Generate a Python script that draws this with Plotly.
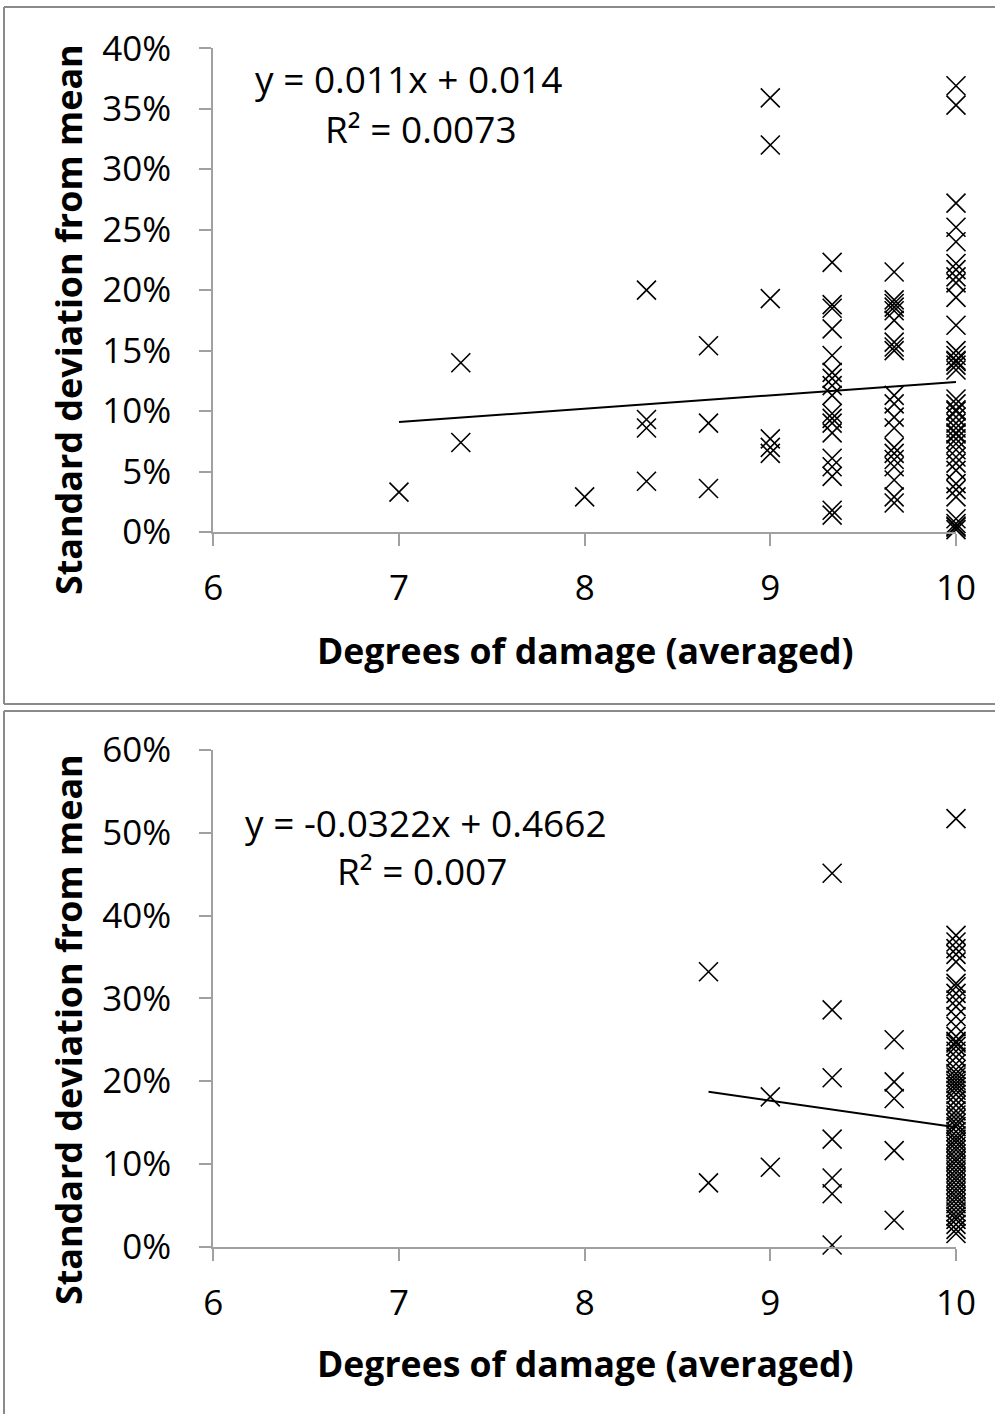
import plotly.graph_objects as go

# ---- Panel 1: damage vs. standard deviation (first set) ----
top_x = (
    [7.0]
    + [7.333] * 2
    + [8.0]
    + [8.333] * 4
    + [8.667] * 3
    + [9.0] * 6
    + [9.333] * 18
    + [9.667] * 20
    + [10.0] * 40
)
top_y = (
    [0.033]
    + [0.140, 0.074]
    + [0.029]
    + [0.200, 0.093, 0.086, 0.042]
    + [0.154, 0.090, 0.036]
    + [0.359, 0.320, 0.193, 0.077, 0.070, 0.065]
    + [0.223, 0.188, 0.185, 0.168, 0.146, 0.132, 0.127, 0.121, 0.113,
       0.098, 0.094, 0.090, 0.082, 0.061, 0.054, 0.046, 0.018, 0.014]
    + [0.215, 0.192, 0.189, 0.186, 0.183, 0.175, 0.157, 0.153, 0.150, 0.113,
       0.106, 0.095, 0.086, 0.070, 0.065, 0.060, 0.054, 0.043, 0.029, 0.024]
    + [0.369, 0.353, 0.272, 0.252, 0.240, 0.222, 0.217, 0.211, 0.206, 0.194,
       0.171, 0.150, 0.146, 0.142, 0.141, 0.138, 0.134, 0.110, 0.106, 0.101,
       0.100, 0.095, 0.090, 0.086, 0.082, 0.081, 0.077, 0.073, 0.068, 0.062,
       0.057, 0.051, 0.040, 0.035, 0.029, 0.011, 0.007, 0.005, 0.004, 0.002]
)
top_slope, top_intercept, top_r2 = 0.011, 0.014, "0.0073"

# ---- Panel 2: damage vs. standard deviation (second set) ----
bot_x = (
    [8.667] * 2
    + [9.0] * 2
    + [9.333] * 7
    + [9.667] * 5
    + [10.0] * 62
)
bot_y = (
    [0.332, 0.077]
    + [0.181, 0.096]
    + [0.451, 0.286, 0.204, 0.130, 0.083, 0.064, 0.002]
    + [0.250, 0.199, 0.179, 0.116, 0.032]
    + [0.517, 0.376, 0.368, 0.360, 0.353, 0.344, 0.318, 0.314, 0.306, 0.298,
       0.290, 0.278, 0.266, 0.254, 0.248, 0.246, 0.242, 0.236, 0.229, 0.221,
       0.214, 0.209, 0.205, 0.201, 0.197, 0.193, 0.189, 0.184, 0.177, 0.171,
       0.164, 0.159, 0.154, 0.149, 0.145, 0.139, 0.134, 0.130, 0.126, 0.121,
       0.117, 0.112, 0.107, 0.103, 0.098, 0.093, 0.089, 0.084, 0.080, 0.075,
       0.070, 0.066, 0.061, 0.057, 0.052, 0.047, 0.042, 0.037, 0.033, 0.027,
       0.021, 0.016]
)
bot_slope, bot_intercept, bot_r2 = -0.0322, 0.4662, "0.007"

x_ticks = [6, 7, 8, 9, 10]
axis_title_x = "Degrees of damage (averaged)"
axis_title_y = "Standard deviation from mean"

FONT = "Open Sans"
AXIS_GREY = "#a0a0a0"
W, H = 995, 1414


def px_x(v):
    return v / W


def px_y(v):
    # pixel offset from top -> paper fraction from bottom
    return (H - v) / H


marker = dict(symbol="x-thin-open", size=19, color="black",
              line=dict(color="black", width=1.6))

fig = go.Figure()

fig.add_trace(go.Scatter(x=top_x, y=top_y, mode="markers", marker=marker,
                         xaxis="x", yaxis="y", cliponaxis=False,
                         showlegend=False))
tx = [min(top_x), max(top_x)]
fig.add_trace(go.Scatter(x=tx, y=[top_slope * v + top_intercept for v in tx],
                         mode="lines", line=dict(color="black", width=2),
                         xaxis="x", yaxis="y", cliponaxis=False,
                         showlegend=False))

fig.add_trace(go.Scatter(x=bot_x, y=bot_y, mode="markers", marker=marker,
                         xaxis="x2", yaxis="y2", cliponaxis=False,
                         showlegend=False))
bx = [min(bot_x), max(bot_x)]
fig.add_trace(go.Scatter(x=bx, y=[bot_slope * v + bot_intercept for v in bx],
                         mode="lines", line=dict(color="black", width=2),
                         xaxis="x2", yaxis="y2", cliponaxis=False,
                         showlegend=False))

common_x = dict(range=[6, 10], tickvals=x_ticks, showline=True,
                linecolor=AXIS_GREY, linewidth=2, ticks="outside", ticklen=12,
                tickwidth=2, tickcolor=AXIS_GREY, showgrid=False,
                zeroline=False, ticklabelstandoff=12, automargin=False,
                tickfont=dict(family=FONT, size=35, color="black"),
                domain=[px_x(213.3), px_x(956)])
common_y = dict(showline=True, linecolor=AXIS_GREY, linewidth=2,
                ticks="outside", ticklen=12, tickwidth=2, tickcolor=AXIS_GREY,
                showgrid=False, zeroline=False, tickformat=".0%",
                ticklabelstandoff=21, automargin=False,
                tickfont=dict(family=FONT, size=35, color="black"))

fig.update_layout(
    width=W, height=H, autosize=False,
    margin=dict(l=0, r=0, t=0, b=0, pad=0),
    paper_bgcolor="white", plot_bgcolor="white",
    xaxis=dict(**common_x, anchor="y"),
    yaxis=dict(**common_y, range=[0, 0.4], dtick=0.05, anchor="x",
               domain=[px_y(532), px_y(48.3)]),
    xaxis2=dict(**common_x, anchor="y2"),
    yaxis2=dict(**common_y, range=[0, 0.6], dtick=0.1, anchor="x2",
                domain=[px_y(1246.7), px_y(749.9)]),
)

# Panel frames: left/top/bottom edges (right edge lies past the page)
edge = dict(type="line", xref="paper", yref="paper",
            line=dict(color="#8a8a8a", width=2))
# upper panel
fig.add_shape(**edge, x0=px_x(4), x1=px_x(4), y0=px_y(704), y1=px_y(7))
fig.add_shape(**edge, x0=px_x(4), x1=1, y0=px_y(7), y1=px_y(7))
fig.add_shape(**edge, x0=px_x(4), x1=1, y0=px_y(704), y1=px_y(704))
# lower panel
fig.add_shape(**edge, x0=px_x(4), x1=px_x(4), y0=0, y1=px_y(711))
fig.add_shape(**edge, x0=px_x(4), x1=1, y0=px_y(711), y1=px_y(711))

title_font = dict(family=FONT, size=35.6, color="black", weight="bold")
ytitle_font = dict(family=FONT, size=35.9, color="black", weight="bold")
eq_font = dict(family=FONT, size=37, color="black")


def note(text, x, y, font, angle=0):
    fig.add_annotation(text=text, x=px_x(x), y=px_y(y), xref="paper",
                       yref="paper", showarrow=False, font=font,
                       textangle=angle, xanchor="center", yanchor="middle")


# Axis titles
note(axis_title_x, 585, 650, title_font)
note(axis_title_x, 585, 1363, title_font)
note(axis_title_y, 68, 320, ytitle_font, -90)
note(axis_title_y, 68, 1030, ytitle_font, -90)


# Trendline equations
def eq_text(m, b):
    sign = "+" if b >= 0 else "-"
    return f"y = {m:g}x {sign} {abs(b):g}"


note(eq_text(top_slope, top_intercept), 408, 79, eq_font)
note(f"R² = {top_r2}", 421, 129, eq_font)
note(eq_text(bot_slope, bot_intercept), 426, 822, eq_font)
note(f"R² = {bot_r2}", 422, 870, eq_font)

fig.write_html("out.html")
